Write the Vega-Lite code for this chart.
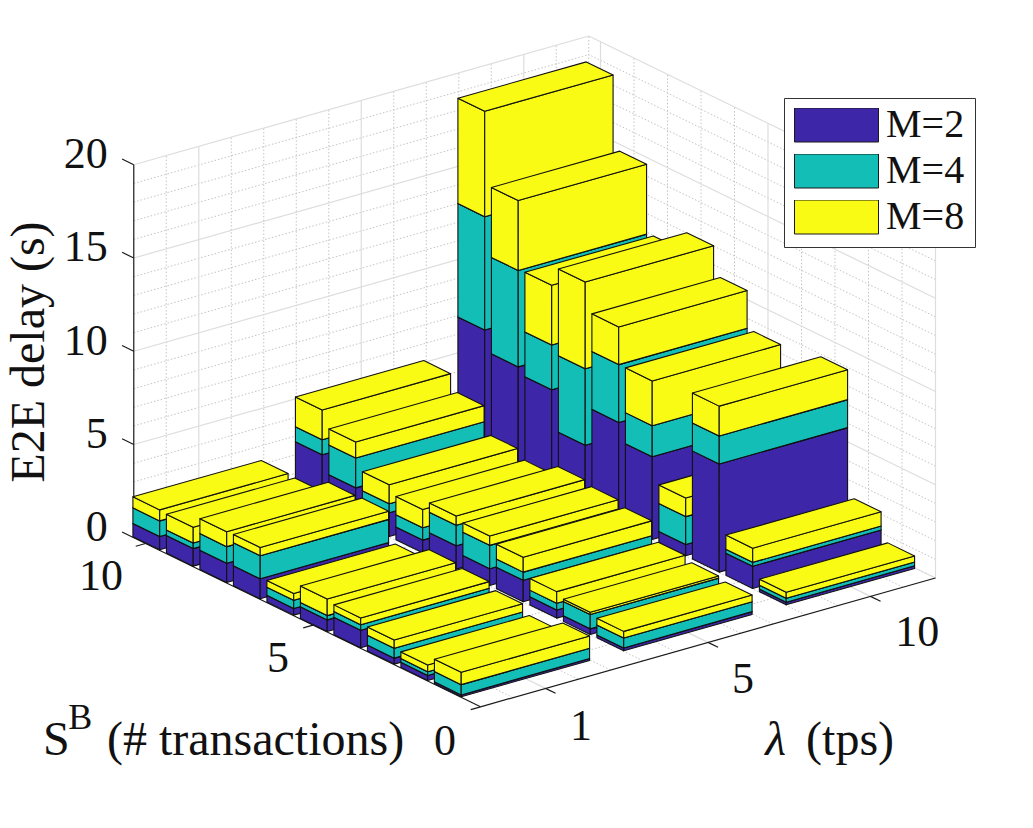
{"$schema":"https://vega.github.io/schema/vega-lite/v6.json","width":1033,"height":828,"autosize":{"type":"none"},"padding":0,"background":"white","config":{"view":{"stroke":null}},
"datasets":{
"bars":[
{"lam":10,"S":10,"M":"M=2","d":6.85},{"lam":10,"S":10,"M":"M=4","d":6.08},{"lam":10,"S":10,"M":"M=8","d":5.65},
{"lam":10,"S":9,"M":"M=2","d":5.75},{"lam":10,"S":9,"M":"M=4","d":5.17},{"lam":10,"S":9,"M":"M=8","d":3.75},
{"lam":10,"S":8,"M":"M=2","d":5.4},{"lam":10,"S":8,"M":"M=4","d":2.4},{"lam":10,"S":8,"M":"M=8","d":3.2},
{"lam":10,"S":7,"M":"M=2","d":3.3},{"lam":10,"S":7,"M":"M=4","d":4.1},{"lam":10,"S":7,"M":"M=8","d":4.65},
{"lam":10,"S":6,"M":"M=2","d":5.4},{"lam":10,"S":6,"M":"M=4","d":3.1},{"lam":10,"S":6,"M":"M=8","d":2.02},
{"lam":10,"S":5,"M":"M=2","d":4.43},{"lam":10,"S":5,"M":"M=4","d":1.67},{"lam":10,"S":5,"M":"M=8","d":2.4},
{"lam":10,"S":4,"M":"M=2","d":0.6},{"lam":10,"S":4,"M":"M=4","d":1.5},{"lam":10,"S":4,"M":"M=8","d":1.0},
{"lam":10,"S":3,"M":"M=2","d":5.8},{"lam":10,"S":3,"M":"M=4","d":1.5},{"lam":10,"S":3,"M":"M=8","d":1.6},
{"lam":10,"S":2,"M":"M=2","d":1.19},{"lam":10,"S":2,"M":"M=4","d":0.21},{"lam":10,"S":2,"M":"M=8","d":0.76},
{"lam":10,"S":1,"M":"M=2","d":0.14},{"lam":10,"S":1,"M":"M=4","d":0.21},{"lam":10,"S":1,"M":"M=8","d":0.32},
{"lam":5,"S":10,"M":"M=2","d":2.63},{"lam":5,"S":10,"M":"M=4","d":0.8},{"lam":5,"S":10,"M":"M=8","d":1.6},
{"lam":5,"S":9,"M":"M=2","d":1.73},{"lam":5,"S":9,"M":"M=4","d":1.6},{"lam":5,"S":9,"M":"M=8","d":0.86},
{"lam":5,"S":8,"M":"M=2","d":1.27},{"lam":5,"S":8,"M":"M=4","d":0.48},{"lam":5,"S":8,"M":"M=8","d":1.02},
{"lam":5,"S":7,"M":"M=2","d":0.68},{"lam":5,"S":7,"M":"M=4","d":0.66},{"lam":5,"S":7,"M":"M=8","d":0.98},
{"lam":5,"S":6,"M":"M=2","d":1.25},{"lam":5,"S":6,"M":"M=4","d":1.1},{"lam":5,"S":6,"M":"M=8","d":0.5},
{"lam":5,"S":5,"M":"M=2","d":0.9},{"lam":5,"S":5,"M":"M=4","d":1.25},{"lam":5,"S":5,"M":"M=8","d":0.5},
{"lam":5,"S":4,"M":"M=2","d":1.15},{"lam":5,"S":4,"M":"M=4","d":0.44},{"lam":5,"S":4,"M":"M=8","d":0.8},
{"lam":5,"S":3,"M":"M=2","d":0.44},{"lam":5,"S":3,"M":"M=4","d":0.36},{"lam":5,"S":3,"M":"M=8","d":0.62},
{"lam":5,"S":2,"M":"M=2","d":0.3},{"lam":5,"S":2,"M":"M=4","d":0.77},{"lam":5,"S":2,"M":"M=8","d":0.12},
{"lam":5,"S":1,"M":"M=2","d":0.15},{"lam":5,"S":1,"M":"M=4","d":0.53},{"lam":5,"S":1,"M":"M=8","d":0.36},
{"lam":1,"S":10,"M":"M=2","d":0.71},{"lam":1,"S":10,"M":"M=4","d":0.84},{"lam":1,"S":10,"M":"M=8","d":0.59},
{"lam":1,"S":9,"M":"M=2","d":0.94},{"lam":1,"S":9,"M":"M=4","d":0.3},{"lam":1,"S":9,"M":"M=8","d":0.84},
{"lam":1,"S":8,"M":"M=2","d":1.03},{"lam":1,"S":8,"M":"M=4","d":0.89},{"lam":1,"S":8,"M":"M=8","d":0.8},
{"lam":1,"S":7,"M":"M=2","d":1.07},{"lam":1,"S":7,"M":"M=4","d":1.24},{"lam":1,"S":7,"M":"M=8","d":0.44},
{"lam":1,"S":6,"M":"M=2","d":0.36},{"lam":1,"S":6,"M":"M=4","d":0.44},{"lam":1,"S":6,"M":"M=8","d":0.36},
{"lam":1,"S":5,"M":"M=2","d":0.62},{"lam":1,"S":5,"M":"M=4","d":0.23},{"lam":1,"S":5,"M":"M=8","d":0.89},
{"lam":1,"S":4,"M":"M=2","d":0.94},{"lam":1,"S":4,"M":"M=4","d":0.3},{"lam":1,"S":4,"M":"M=8","d":0.36},
{"lam":1,"S":3,"M":"M=2","d":0.32},{"lam":1,"S":3,"M":"M=4","d":0.53},{"lam":1,"S":3,"M":"M=8","d":0.44},
{"lam":1,"S":2,"M":"M=2","d":0.27},{"lam":1,"S":2,"M":"M=4","d":0.2},{"lam":1,"S":2,"M":"M=8","d":0.36},
{"lam":1,"S":1,"M":"M=2","d":0.1},{"lam":1,"S":1,"M":"M=4","d":0.55},{"lam":1,"S":1,"M":"M=8","d":0.66}
],
"grid":[
{"plane":"wallS_z","val":0,"major":true},{"plane":"wallS_z","val":1},{"plane":"wallS_z","val":2},{"plane":"wallS_z","val":3},{"plane":"wallS_z","val":4},{"plane":"wallS_z","val":5,"major":true},{"plane":"wallS_z","val":6},{"plane":"wallS_z","val":7},{"plane":"wallS_z","val":8},{"plane":"wallS_z","val":9},{"plane":"wallS_z","val":10,"major":true},{"plane":"wallS_z","val":11},{"plane":"wallS_z","val":12},{"plane":"wallS_z","val":13},{"plane":"wallS_z","val":14},{"plane":"wallS_z","val":15,"major":true},{"plane":"wallS_z","val":16},{"plane":"wallS_z","val":17},{"plane":"wallS_z","val":18},{"plane":"wallS_z","val":19},{"plane":"wallS_z","val":20,"major":true},
{"plane":"wallL_z","val":0,"major":true},{"plane":"wallL_z","val":1},{"plane":"wallL_z","val":2},{"plane":"wallL_z","val":3},{"plane":"wallL_z","val":4},{"plane":"wallL_z","val":5,"major":true},{"plane":"wallL_z","val":6},{"plane":"wallL_z","val":7},{"plane":"wallL_z","val":8},{"plane":"wallL_z","val":9},{"plane":"wallL_z","val":10,"major":true},{"plane":"wallL_z","val":11},{"plane":"wallL_z","val":12},{"plane":"wallL_z","val":13},{"plane":"wallL_z","val":14},{"plane":"wallL_z","val":15,"major":true},{"plane":"wallL_z","val":16},{"plane":"wallL_z","val":17},{"plane":"wallL_z","val":18},{"plane":"wallL_z","val":19},{"plane":"wallL_z","val":20,"major":true},
{"plane":"wallS_v","val":0.8},{"plane":"wallS_v","val":1,"major":true},{"plane":"wallS_v","val":1.2},{"plane":"wallS_v","val":1.4},{"plane":"wallS_v","val":1.6},{"plane":"wallS_v","val":1.8},{"plane":"wallS_v","val":2,"major":true},{"plane":"wallS_v","val":2.2},{"plane":"wallS_v","val":2.4},{"plane":"wallS_v","val":2.6},{"plane":"wallS_v","val":2.8},{"plane":"wallS_v","val":3,"major":true},{"plane":"wallS_v","val":3.2},{"plane":"wallS_v","val":3.4},
{"plane":"floor_v","val":0.8},{"plane":"floor_v","val":1,"major":true},{"plane":"floor_v","val":1.2},{"plane":"floor_v","val":1.4},{"plane":"floor_v","val":1.6},{"plane":"floor_v","val":1.8},{"plane":"floor_v","val":2,"major":true},{"plane":"floor_v","val":2.2},{"plane":"floor_v","val":2.4},{"plane":"floor_v","val":2.6},{"plane":"floor_v","val":2.8},{"plane":"floor_v","val":3,"major":true},{"plane":"floor_v","val":3.2},{"plane":"floor_v","val":3.4},
{"plane":"wallL_u","val":0,"major":true},{"plane":"wallL_u","val":1},{"plane":"wallL_u","val":2},{"plane":"wallL_u","val":3},{"plane":"wallL_u","val":4},{"plane":"wallL_u","val":5,"major":true},{"plane":"wallL_u","val":6},{"plane":"wallL_u","val":7},{"plane":"wallL_u","val":8},{"plane":"wallL_u","val":9},{"plane":"wallL_u","val":10,"major":true},
{"plane":"floor_u","val":1},{"plane":"floor_u","val":2},{"plane":"floor_u","val":3},{"plane":"floor_u","val":4},{"plane":"floor_u","val":5,"major":true},{"plane":"floor_u","val":6},{"plane":"floor_u","val":7},{"plane":"floor_u","val":8},{"plane":"floor_u","val":9},{"plane":"floor_u","val":10,"major":true}
],
"axes":[
{"u1":10.35,"v1":0.6,"z1":0,"u2":10.35,"v2":0.6,"z2":20},
{"u1":0,"v1":0.6,"z1":0,"u2":10.35,"v2":0.6,"z2":0},
{"u1":0,"v1":0.6,"z1":0,"u2":0,"v2":3.4,"z2":0},
{"u1":10.35,"v1":0.6,"z1":0,"u2":10.7,"v2":0.6,"z2":0},
{"u1":10.35,"v1":0.6,"z1":5,"u2":10.7,"v2":0.6,"z2":5},
{"u1":10.35,"v1":0.6,"z1":10,"u2":10.7,"v2":0.6,"z2":10},
{"u1":10.35,"v1":0.6,"z1":15,"u2":10.7,"v2":0.6,"z2":15},
{"u1":10.35,"v1":0.6,"z1":20,"u2":10.7,"v2":0.6,"z2":20},
{"u1":0,"v1":0.6,"z1":0,"u2":0,"v2":0.54,"z2":0},
{"u1":5,"v1":0.6,"z1":0,"u2":5,"v2":0.54,"z2":0},
{"u1":10,"v1":0.6,"z1":0,"u2":10,"v2":0.54,"z2":0},
{"u1":0,"v1":1,"z1":0,"u2":-0.3,"v2":1,"z2":0},
{"u1":0,"v1":2,"z1":0,"u2":-0.3,"v2":2,"z2":0},
{"u1":0,"v1":3,"z1":0,"u2":-0.3,"v2":3,"z2":0}
],
"ztext":[{"t":"0","z":0},{"t":"5","z":5},{"t":"10","z":10},{"t":"15","z":15},{"t":"20","z":20}],
"ctext":[{"t":"0","u":-0.974,"v":0.18},{"t":"5","u":4.07,"v":0.193},{"t":"10","u":9.19,"v":0.159},{"t":"1","u":-1.9,"v":0.826},{"t":"5","u":-1.84,"v":1.836},{"t":"10","u":-1.93,"v":2.89}],
"ltext":[{"t":"S","u":2.93,"v":-1.488},{"t":"(# transactions)","u":2.23,"v":-1.239},{"t":"(tps)","u":-5.44,"v":1.482}],
"sup":[{"t":"B","u":3.66,"v":-1.183}],
"lamb":[{"t":"λ","u":-4.99,"v":1.323}],
"ylab":[{"t":"E2E delay (s)","u":18.53,"v":1.734}]
},
"layer":[
{"data":{"name":"grid"},"transform":[
{"filter":"!datum.major"},
{"calculate":"indexof(['wallS_z','wallS_v'],datum.plane)>=0?10.35:(indexof(['wallL_z','floor_v'],datum.plane)>=0?0:datum.val)","as":"u1"},
{"calculate":"indexof(['wallS_z','wallS_v','wallL_z','floor_v'],datum.plane)>=0?10.35:datum.val","as":"u2"},
{"calculate":"indexof(['wallS_z','floor_u'],datum.plane)>=0?0.6:(indexof(['wallS_v','floor_v'],datum.plane)>=0?datum.val:3.4)","as":"v1"},
{"calculate":"indexof(['wallS_z','floor_u'],datum.plane)>=0?3.4:(indexof(['wallS_v','floor_v'],datum.plane)>=0?datum.val:3.4)","as":"v2"},
{"calculate":"indexof(['wallS_z','wallL_z'],datum.plane)>=0?datum.val:0","as":"z1"},
{"calculate":"indexof(['wallS_z','wallL_z'],datum.plane)>=0?datum.val:(indexof(['wallS_v','wallL_u'],datum.plane)>=0?20:0)","as":"z2"},
{"calculate":"383-33.5*datum.u1+162.5*datum.v1","as":"x1"},{"calculate":"734.4-16.33*datum.u1-46*datum.v1-18.65*datum.z1","as":"y1"},
{"calculate":"383-33.5*datum.u2+162.5*datum.v2","as":"x2"},{"calculate":"734.4-16.33*datum.u2-46*datum.v2-18.65*datum.z2","as":"y2"}],
"mark":{"type":"rule","stroke":"#c4c4c4","strokeWidth":1,"strokeDash":[1.5,2]},
"encoding":{"x":{"field":"x1","type":"quantitative","scale":{"domain":[0,1033],"nice":false,"zero":false},"axis":null},"y":{"field":"y1","type":"quantitative","scale":{"domain":[828,0],"nice":false,"zero":false},"axis":null},"x2":{"field":"x2"},"y2":{"field":"y2"}}},
{"data":{"name":"grid"},"transform":[
{"filter":"datum.major"},
{"calculate":"indexof(['wallS_z','wallS_v'],datum.plane)>=0?10.35:(indexof(['wallL_z','floor_v'],datum.plane)>=0?0:datum.val)","as":"u1"},
{"calculate":"indexof(['wallS_z','wallS_v','wallL_z','floor_v'],datum.plane)>=0?10.35:datum.val","as":"u2"},
{"calculate":"indexof(['wallS_z','floor_u'],datum.plane)>=0?0.6:(indexof(['wallS_v','floor_v'],datum.plane)>=0?datum.val:3.4)","as":"v1"},
{"calculate":"indexof(['wallS_z','floor_u'],datum.plane)>=0?3.4:(indexof(['wallS_v','floor_v'],datum.plane)>=0?datum.val:3.4)","as":"v2"},
{"calculate":"indexof(['wallS_z','wallL_z'],datum.plane)>=0?datum.val:0","as":"z1"},
{"calculate":"indexof(['wallS_z','wallL_z'],datum.plane)>=0?datum.val:(indexof(['wallS_v','wallL_u'],datum.plane)>=0?20:0)","as":"z2"},
{"calculate":"383-33.5*datum.u1+162.5*datum.v1","as":"x1"},{"calculate":"734.4-16.33*datum.u1-46*datum.v1-18.65*datum.z1","as":"y1"},
{"calculate":"383-33.5*datum.u2+162.5*datum.v2","as":"x2"},{"calculate":"734.4-16.33*datum.u2-46*datum.v2-18.65*datum.z2","as":"y2"}],
"mark":{"type":"rule","stroke":"#dddddd","strokeWidth":1.2},
"encoding":{"x":{"field":"x1","type":"quantitative"},"y":{"field":"y1","type":"quantitative"},"x2":{"field":"x2"},"y2":{"field":"y2"}}},
{"data":{"name":"axes"},"transform":[
{"calculate":"383-33.5*datum.u1+162.5*datum.v1","as":"x1"},{"calculate":"734.4-16.33*datum.u1-46*datum.v1-18.65*datum.z1","as":"y1"},
{"calculate":"383-33.5*datum.u2+162.5*datum.v2","as":"x2"},{"calculate":"734.4-16.33*datum.u2-46*datum.v2-18.65*datum.z2","as":"y2"}],
"mark":{"type":"rule","stroke":"#1a1a1a","strokeWidth":1.2},
"encoding":{"x":{"field":"x1","type":"quantitative"},"y":{"field":"y1","type":"quantitative"},"x2":{"field":"x2"},"y2":{"field":"y2"}}},
{"data":{"name":"bars"},"transform":[
{"window":[{"op":"sum","field":"d","as":"top"}],"groupby":["lam","S"],"sort":[{"field":"M","order":"ascending"}],"frame":[null,0]},
{"calculate":"datum.top-datum.d","as":"base"},
{"calculate":"indexof([1,5,10],datum.lam)+1","as":"v"},
{"calculate":"['short','long','top']","as":"face"},{"flatten":["face"]},
{"calculate":"[0,1,2,3]","as":"i"},{"flatten":["i"]},
{"calculate":"datum.lam+'-'+datum.S+'-'+datum.M+'-'+datum.face","as":"id"},
{"calculate":"datum.face=='long'?datum.S-0.4:((datum.i==0||datum.i==3)?datum.S+0.4:datum.S-0.4)","as":"uu"},
{"calculate":"datum.face=='short'?datum.v-0.395:(datum.face=='long'?((datum.i==0||datum.i==3)?datum.v-0.395:datum.v+0.395):(datum.i<2?datum.v-0.395:datum.v+0.395))","as":"vv"},
{"calculate":"datum.face=='top'?datum.top:(datum.i<2?datum.base:datum.top)","as":"zz"},
{"calculate":"383-33.5*datum.uu+162.5*datum.vv","as":"px"},
{"calculate":"734.4-16.33*datum.uu-46*datum.vv-18.65*datum.zz","as":"py"}],
"mark":{"type":"line","interpolate":"linear-closed","stroke":"#111111","strokeWidth":1.1,"strokeJoin":"round"},
"encoding":{"x":{"field":"px","type":"quantitative"},"y":{"field":"py","type":"quantitative"},"detail":{"field":"id"},"order":{"field":"i","type":"quantitative"},
"fill":{"field":"M","type":"nominal","scale":{"domain":["M=2","M=4","M=8"],"range":["#3E26A8","#13BEB7","#F9FB15"]},
"legend":{"title":null,"orient":"none","legendX":784,"legendY":98,"symbolType":"M-1,-0.405H1V0.405H-1Z","symbolSize":7056,"clipHeight":34,"rowPadding":6,"labelOffset":7,"labelFont":"Liberation Serif","labelFontSize":40,"labelColor":"#111","fillColor":"white","strokeColor":"#333","padding":10,"symbolStrokeColor":"#1a1a1a","symbolStrokeWidth":1,"symbolOpacity":1}}}},
{"data":{"name":"ztext"},"transform":[{"calculate":"383-33.5*11.13+162.5*0.6","as":"px"},{"calculate":"734.4-16.33*11.13-46*0.6-18.65*datum.z","as":"py"}],
"mark":{"type":"text","align":"right","baseline":"middle","font":"Liberation Serif","fontSize":44,"color":"#111","dy":3},
"encoding":{"x":{"field":"px","type":"quantitative"},"y":{"field":"py","type":"quantitative"},"text":{"field":"t"}}},
{"data":{"name":"ctext"},"transform":[{"calculate":"383-33.5*datum.u+162.5*datum.v","as":"px"},{"calculate":"734.4-16.33*datum.u-46*datum.v","as":"py"}],
"mark":{"type":"text","align":"center","baseline":"middle","font":"Liberation Serif","fontSize":44,"color":"#111"},
"encoding":{"x":{"field":"px","type":"quantitative"},"y":{"field":"py","type":"quantitative"},"text":{"field":"t"}}},
{"data":{"name":"ltext"},"transform":[{"calculate":"383-33.5*datum.u+162.5*datum.v","as":"px"},{"calculate":"734.4-16.33*datum.u-46*datum.v","as":"py"}],
"mark":{"type":"text","align":"left","baseline":"alphabetic","font":"Liberation Serif","fontSize":48,"color":"#111"},
"encoding":{"x":{"field":"px","type":"quantitative"},"y":{"field":"py","type":"quantitative"},"text":{"field":"t"}}},
{"data":{"name":"sup"},"transform":[{"calculate":"383-33.5*datum.u+162.5*datum.v","as":"px"},{"calculate":"734.4-16.33*datum.u-46*datum.v","as":"py"}],
"mark":{"type":"text","align":"left","baseline":"alphabetic","font":"Liberation Serif","fontSize":36,"color":"#111"},
"encoding":{"x":{"field":"px","type":"quantitative"},"y":{"field":"py","type":"quantitative"},"text":{"field":"t"}}},
{"data":{"name":"lamb"},"transform":[{"calculate":"383-33.5*datum.u+162.5*datum.v","as":"px"},{"calculate":"734.4-16.33*datum.u-46*datum.v","as":"py"}],
"mark":{"type":"text","align":"left","baseline":"alphabetic","font":"Liberation Serif","fontSize":48,"fontStyle":"italic","color":"#111"},
"encoding":{"x":{"field":"px","type":"quantitative"},"y":{"field":"py","type":"quantitative"},"text":{"field":"t"}}},
{"data":{"name":"ylab"},"transform":[{"calculate":"383-33.5*datum.u+162.5*datum.v","as":"px"},{"calculate":"734.4-16.33*datum.u-46*datum.v","as":"py"}],
"mark":{"type":"text","align":"center","baseline":"alphabetic","angle":270,"font":"Liberation Serif","fontSize":48,"color":"#111"},
"encoding":{"x":{"field":"px","type":"quantitative"},"y":{"field":"py","type":"quantitative"},"text":{"field":"t"}}}
]}
